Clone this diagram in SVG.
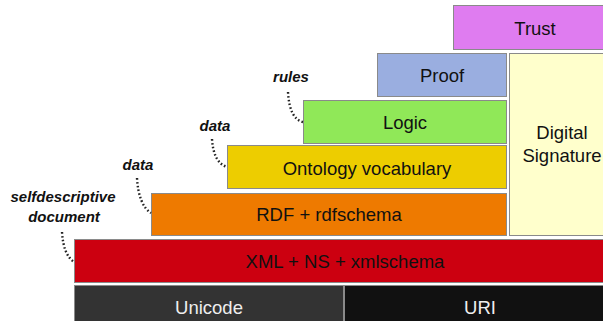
<svg xmlns="http://www.w3.org/2000/svg" width="603" height="321" viewBox="0 0 603 321">
<style>
.box{stroke:#8a8a8a;stroke-width:1}
.lbl{font-family:"Liberation Sans",Arial,sans-serif;font-size:18.5px;fill:#111;text-anchor:middle}
.wl{fill:#eee}
.ann{font-family:"Liberation Sans",Arial,sans-serif;font-size:15px;font-style:italic;font-weight:bold;fill:#111;text-anchor:middle}
.dot{fill:none;stroke:#222;stroke-width:2.4;stroke-dasharray:1.6 2.2;stroke-linecap:butt}
</style>
<rect width="603" height="321" fill="#fff"/>
<g id="trust"><rect class="box" x="453.5" y="5.5" width="160" height="44" fill="#df7cf0"/><text class="lbl" x="535" y="35">Trust</text></g>
<g id="proof"><rect class="box" x="377.5" y="53.5" width="129" height="43" fill="#9aaee0"/><text class="lbl" x="442" y="82">Proof</text></g>
<g id="digsig"><rect class="box" x="509.5" y="53.5" width="104" height="182" fill="#ffffcc"/><text class="lbl" x="562" y="139">Digital</text><text class="lbl" x="562" y="162">Signature</text></g>
<g id="logic"><rect class="box" x="303.5" y="100.5" width="203" height="43" fill="#90e858"/><text class="lbl" x="405" y="129">Logic</text></g>
<g id="ontology"><rect class="box" x="227.5" y="145.5" width="279" height="43" fill="#edcd00"/><text class="lbl" x="367" y="175">Ontology vocabulary</text></g>
<g id="rdf"><rect class="box" x="151.5" y="193.5" width="355" height="42" fill="#ee7a00"/><text class="lbl" x="329" y="221">RDF + rdfschema</text></g>
<g id="xml"><rect class="box" x="74.5" y="239.5" width="540" height="43" fill="#cc0010"/><text class="lbl" x="345" y="268">XML + NS + xmlschema</text></g>
<g id="unicode"><rect class="box" x="74.5" y="285.5" width="269" height="44" fill="#333"/><text class="lbl wl" x="209" y="314">Unicode</text></g>
<g id="uri"><rect class="box" x="344.5" y="285.5" width="270" height="44" fill="#111"/><text class="lbl wl" x="480" y="314">URI</text></g>
<g id="annotations">
<text class="ann" x="291" y="82">rules</text>
<text class="ann" x="215" y="131">data</text>
<text class="ann" x="138" y="170">data</text>
<text class="ann" x="63" y="202">selfdescriptive</text>
<text class="ann" x="64" y="222">document</text>
</g>
<g id="connectors">
<path class="dot" d="M288,92 C289,110 294,120 303,122"/>
<path class="dot" d="M212,139 C213,155 218,164 227,167"/>
<path class="dot" d="M137,178 C138,196 143,208 151,213"/>
<path class="dot" d="M62,232 C63,248 67,257 74,262"/>
</g>
</svg>
